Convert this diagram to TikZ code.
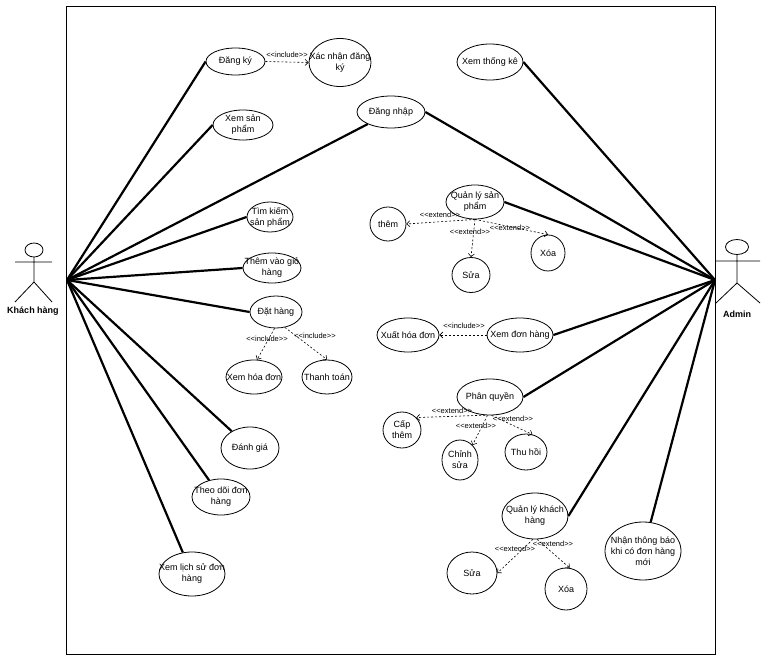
\documentclass[tikz,border=0pt]{standalone}
\usepackage{fontspec}
\setmainfont{Liberation Sans}
\usetikzlibrary{shapes.geometric,arrows.meta}
\newcommand\stereo[1]{<\kern0pt<#1>\kern0pt>}
\newcommand\ucase[6]{\node[uc, minimum width=#4, minimum height=#5] (#1) at (#2,#3) {};\node[lbl] (#1-t) at (#1) {#6};}
\begin{document}
\begin{tikzpicture}[x=1pt,y=-1pt,
 uc/.style={draw, ellipse, line width=0.8pt, inner sep=0pt},
 lbl/.style={font=\fontsize{9}{11}\selectfont, align=center, inner sep=0pt},
 assoc/.style={line width=2.2pt},
 dep/.style={line width=0.6pt, dash pattern=on 2pt off 2pt, -{Straight Barb[length=3pt,width=6pt]}},
 st/.style={font=\fontsize{7.5}{8}\selectfont, inner sep=0.5pt},
 actor/.style={line width=0.8pt},
 actorname/.style={font=\fontsize{9}{11}\selectfont\bfseries, inner sep=0pt}]
\useasboundingbox (0,0) rectangle (768,663);
\draw[line width=1pt] (66,7) rectangle (715,654);

% actors
\draw[actor] (34,250) ellipse (9 and 7);
\draw[actor] (34,257) -- (34,282) (15,262) -- (52,262) (15,302) -- (34,282) -- (52,302);
\node[actorname] (khname) at (33,311) {Khách hàng};
\draw[actor] (737,247) ellipse (11.5 and 7.5);
\draw[actor] (737,255) -- (737,283) (716,261) -- (760,261) (716,303) -- (737,283) -- (760,303);
\node[actorname] (adname) at (737,314) {Admin};
\coordinate (kh) at (67,280);
\coordinate (ad) at (715,280);

% use cases
\ucase{dk}{235.5}{61.5}{59}{27}{Đăng ký}
\ucase{xn}{340}{62.5}{62}{48}{Xác nhận đăng\\ký}
\ucase{xsp}{243}{125}{60}{30}{Xem sản\\phẩm}
\ucase{dn}{391}{112}{68}{32}{Đăng nhập}
\ucase{tk}{270}{217}{46}{30}{Tìm kiếm\\sản phẩm}
\ucase{tv}{272}{268}{58}{30}{Thêm vào giỏ\\hàng}
\ucase{dh}{276}{312}{52}{32}{Đặt hàng}
\ucase{xhd}{254}{377}{56}{34}{Xem hóa đơn}
\ucase{tt}{327}{377}{50}{34}{Thanh toán}
\ucase{dg}{250}{448}{58}{42}{Đánh giá}
\ucase{td}{221}{497}{58}{36}{Theo dõi đơn\\hàng}
\ucase{ls}{192}{574}{66}{44}{Xem lịch sử đơn\\hàng}
\ucase{xtk}{490}{62}{66}{36}{Xem thống kê}
\ucase{qlsp}{475}{202}{58}{34}{Quản lý sản\\phẩm}
\ucase{them}{388}{224}{36}{34}{thêm}
\ucase{sua1}{471}{275}{38}{35}{Sửa}
\ucase{xoa1}{548}{253}{34}{36}{Xóa}
\ucase{xhd2}{408}{335}{62}{34}{Xuất hóa đơn}
\ucase{xdh}{520}{335}{66}{34}{Xem đơn hàng}
\ucase{pq}{490}{397}{66}{36}{Phân quyền}
\ucase{cap}{402}{430}{38}{36}{Cấp\\thêm}
\ucase{cs}{460}{460}{36}{40}{Chỉnh\\sửa}
\ucase{th}{526}{452}{42}{36}{Thu hồi}
\ucase{qlkh}{535}{516}{66}{46}{Quản lý khách\\hàng}
\ucase{sua2}{472}{573}{50}{42}{Sửa}
\ucase{xoa2}{566}{589}{42}{42}{Xóa}
\ucase{ntb}{643}{551}{76}{58}{Nhận thông báo\\khi có đơn hàng\\mới}

% associations: Khách hàng
\draw[assoc] (kh) -- (dk.west);
\draw[assoc] (kh) -- (xsp.west);
\draw[assoc] (kh) -- (dn);
\draw[assoc] (kh) -- (tk.west);
\draw[assoc] (kh) -- (tv.west);
\draw[assoc] (kh) -- (dh.west);
\draw[assoc] (kh) -- (dg);
\draw[assoc] (kh) -- (td);
\draw[assoc] (kh) -- (ls);
% associations: Admin
\draw[assoc] (ad) -- (xtk.east);
\draw[assoc] (ad) -- (dn.east);
\draw[assoc] (ad) -- (qlsp.east);
\draw[assoc] (ad) -- (xdh.east);
\draw[assoc] (ad) -- (pq.east);
\draw[assoc] (ad) -- (qlkh.east);
\draw[assoc] (ad) -- (ntb);

% include / extend
\draw[dep] (dk.east) -- (xn.west);
\draw[dep] (dh.265) -- (xhd.80);
\draw[dep] (dh.300) -- (tt.north);
\draw[dep] (xdh.west) -- (xhd2.east);
\draw[dep] (qlsp.south) -- (them.east);
\draw[dep] (qlsp.south) -- (sua1.north);
\draw[dep] (qlsp.south) -- (xoa1.north);
\draw[dep] (pq.255) -- (cap.41);
\draw[dep] (pq.262) -- (cs.50);
\draw[dep] (pq.275) -- (th.70);
\draw[dep] (qlkh.265) -- (sua2.east);
\draw[dep] (qlkh.275) -- (xoa2.80);

\node[st] (l1) at (287,55) {\stereo{include}};
\node[st] (l2) at (267,339) {\stereo{include}};
\node[st] (l3) at (315,336) {\stereo{include}};
\node[st] (l4) at (464,326) {\stereo{include}};
\node[st] (l5) at (440,215) {\stereo{extend}};
\node[st] (l6) at (470,232) {\stereo{extend}};
\node[st] (l7) at (510,228) {\stereo{extend}};
\node[st] (l8) at (452,411) {\stereo{extend}};
\node[st] (l9) at (476,426) {\stereo{extend}};
\node[st] (l10) at (513,419) {\stereo{extend}};
\node[st] (l11) at (515,549) {\stereo{exteod}};
\node[st] (l12) at (553,544) {\stereo{extend}};
\end{tikzpicture}
\end{document}
